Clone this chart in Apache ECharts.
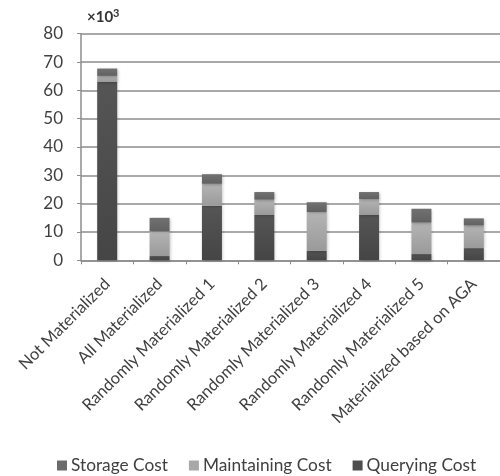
<!DOCTYPE html>
<html>
<head>
<meta charset="utf-8">
<script src="https://cdn.jsdelivr.net/npm/echarts@6/dist/echarts.min.js"></script>
<style>
  html, body { margin: 0; padding: 0; background: #fff; }
  #chart { width: 500px; height: 476px; }
</style>
</head>
<body>
<div id="chart"></div>
<script>
// Cost breakdown per materialization strategy (values in thousands)
const categories = [
  'Not Materialized',
  'All Materialized',
  'Randomly Materialized 1',
  'Randomly Materialized 2',
  'Randomly Materialized 3',
  'Randomly Materialized 4',
  'Randomly Materialized 5',
  'Materialized based on AGA'
];
const queryingCost    = [63.0, 1.5, 19.2, 16.0, 3.3, 16.0, 2.2, 4.3];
const maintainingCost = [2.1, 8.7, 7.8, 5.4, 13.7, 5.6, 11.1, 8.0];
const storageCost     = [2.6, 4.8, 3.4, 2.7, 3.5, 2.5, 4.9, 2.5];
const yTicks = [0, 10, 20, 30, 40, 50, 60, 70, 80];

const FONT = 'Lato, "Open Sans", sans-serif';

function shade(top, bottom) {
  return new echarts.graphic.LinearGradient(0, 0, 0, 1, [
    { offset: 0, color: top },
    { offset: 1, color: bottom }
  ]);
}

function barSeries(name, data, top, bottom) {
  return {
    name: name,
    type: 'bar',
    stack: 'cost',
    barWidth: 20,
    data: data,
    itemStyle: {
      color: shade(top, bottom),
      shadowColor: 'rgba(0,0,0,0.25)',
      shadowBlur: 3,
      shadowOffsetX: 1,
      shadowOffsetY: 1
    },
    emphasis: { disabled: true }
  };
}

const chart = echarts.init(document.getElementById('chart'), null, { renderer: 'canvas' });
chart.setOption({
  animation: false,
  backgroundColor: '#ffffff',
  grid: { left: 81, right: -9, top: 33.7, bottom: 215.7 },
  legend: {
    data: [
      { name: 'Storage Cost', itemStyle: { color: '#6b6b6b' } },
      { name: 'Maintaining Cost', itemStyle: { color: '#a8a8a8' } },
      { name: 'Querying Cost', itemStyle: { color: '#4e4e4e' } }
    ],
    left: 57,
    top: 457,
    padding: 0,
    icon: 'rect',
    itemWidth: 10,
    itemHeight: 10,
    itemGap: 21,
    textStyle: { fontFamily: FONT, fontSize: 17.3, color: '#404040', padding: [0, 0, 0, -1] }
  },
  graphic: [{
    type: 'text',
    left: 87,
    top: 8,
    style: {
      text: '{b|×10}{s|3}',
      rich: {
        b: { fontFamily: FONT, fontWeight: 'bold', fontSize: 15, fill: '#333333', verticalAlign: 'bottom' },
        s: { fontFamily: FONT, fontWeight: 'bold', fontSize: 11, fill: '#333333', verticalAlign: 'top', padding: [0, 0, 6, 0] }
      }
    }
  }],
  xAxis: {
    type: 'category',
    data: categories,
    boundaryGap: true,
    axisLine: { lineStyle: { color: '#8c8c8c', width: 1.5 } },
    axisTick: { show: true, length: 4, lineStyle: { color: '#8c8c8c' } },
    axisLabel: {
      rotate: 45,
      interval: 0,
      margin: 21,
      fontFamily: FONT,
      fontSize: 16.5,
      color: '#404040'
    }
  },
  yAxis: {
    type: 'value',
    min: yTicks[0],
    max: yTicks[yTicks.length - 1],
    interval: 10,
    axisLine: { show: true, lineStyle: { color: '#8c8c8c', width: 1.5 } },
    axisTick: { show: true, length: 4, lineStyle: { color: '#8c8c8c' } },
    axisLabel: {
      margin: 18,
      fontFamily: FONT,
      fontSize: 17,
      color: '#404040'
    },
    splitLine: { lineStyle: { color: '#8c8c8c', width: 1.5 } }
  },
  series: [
    barSeries('Querying Cost', queryingCost, '#555555', '#454545'),
    barSeries('Maintaining Cost', maintainingCost, '#b4b4b4', '#9a9a9a'),
    barSeries('Storage Cost', storageCost, '#717171', '#616161')
  ]
});
</script>
</body>
</html>
